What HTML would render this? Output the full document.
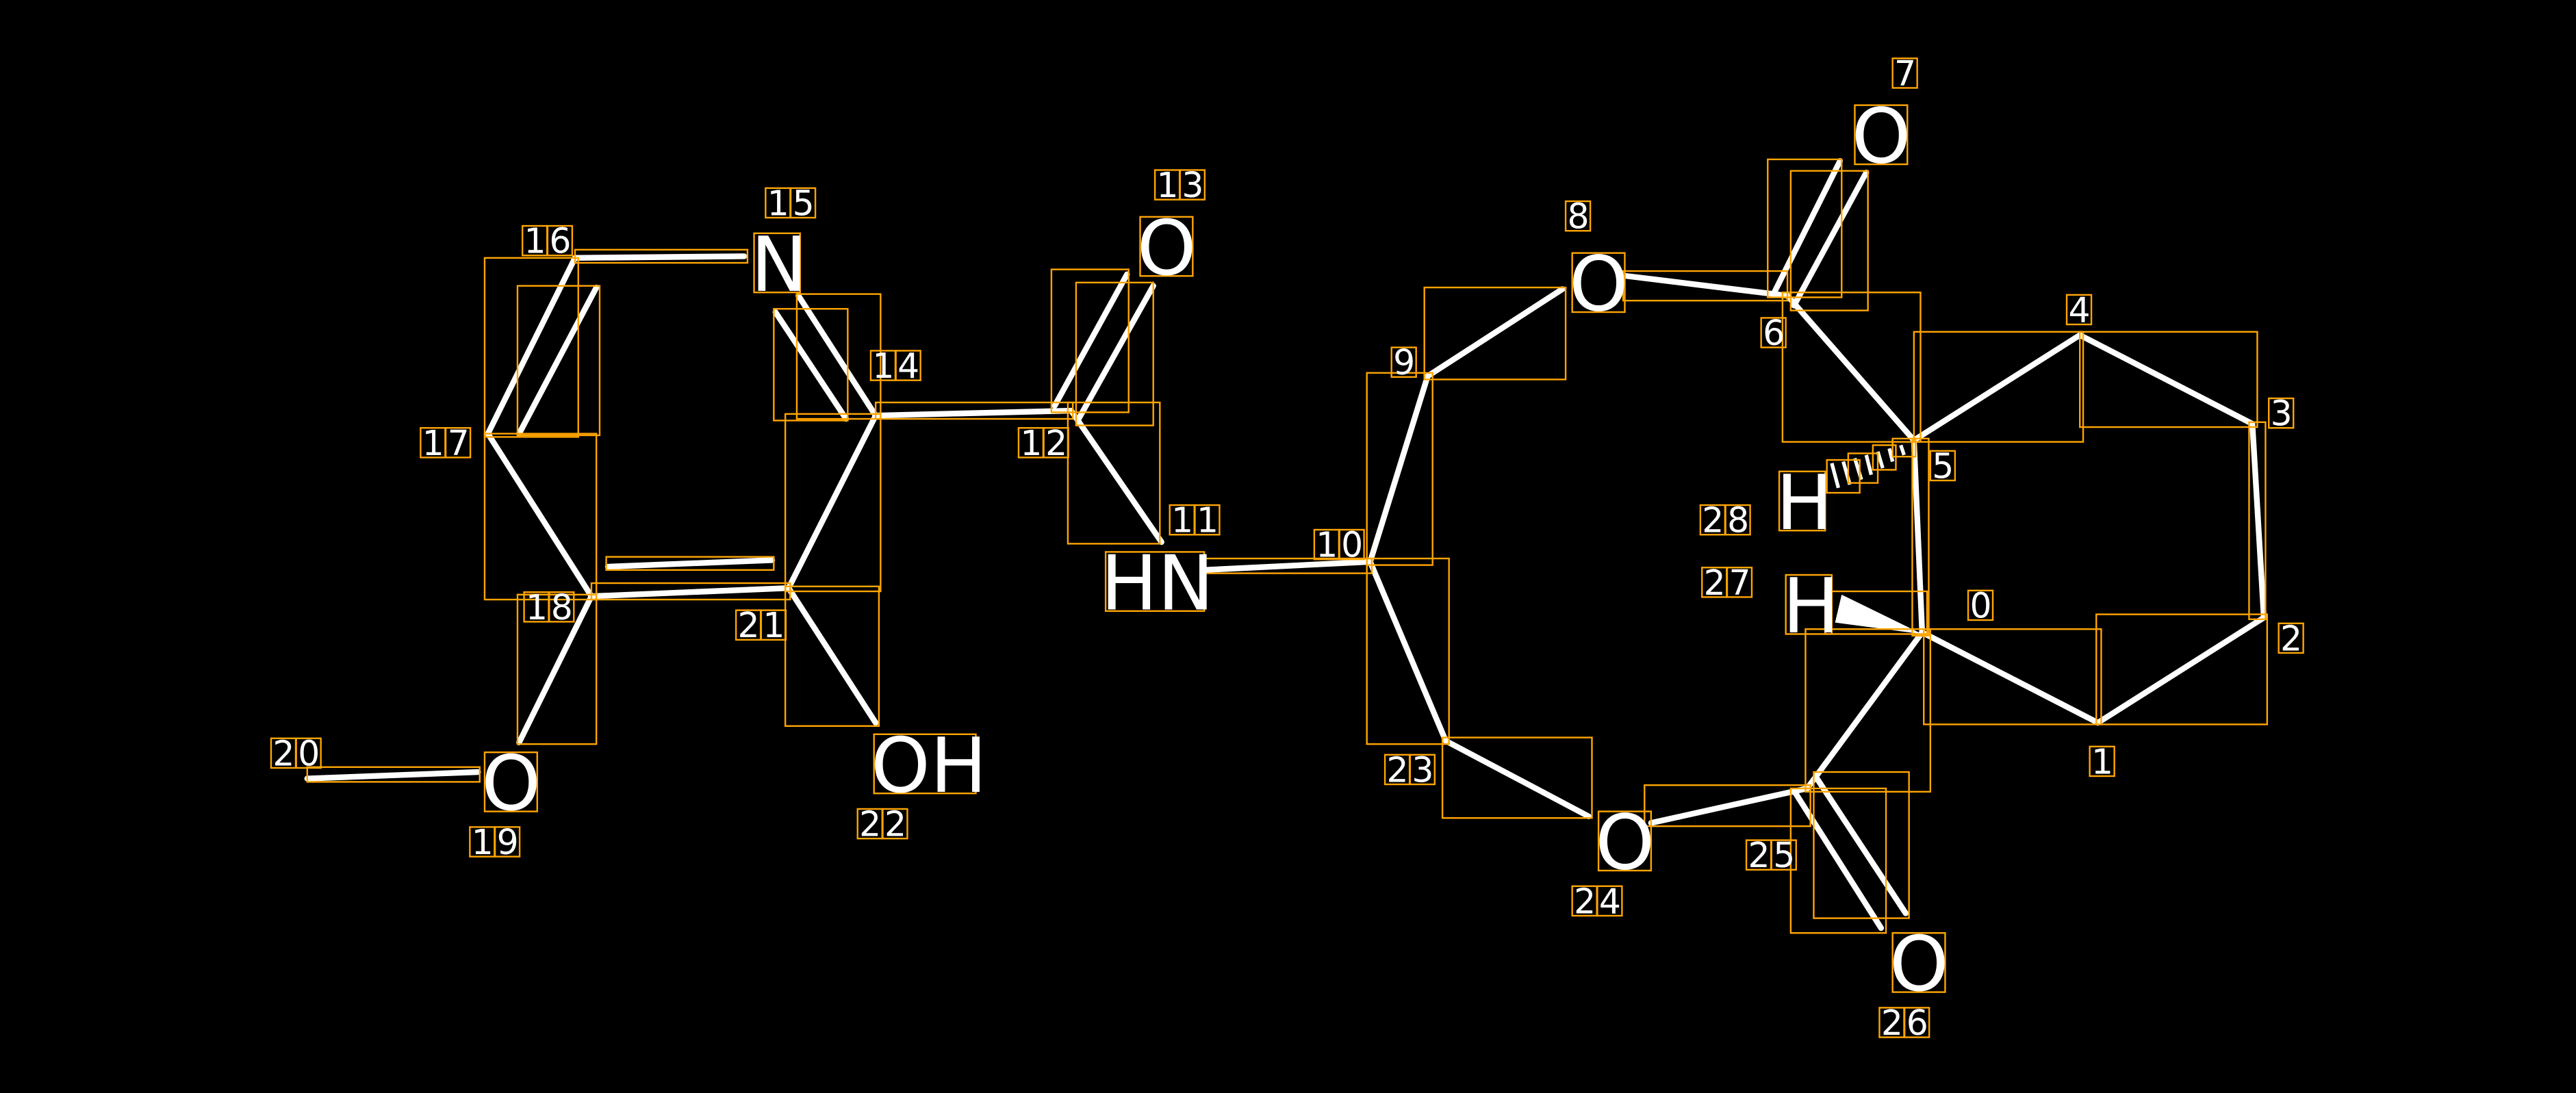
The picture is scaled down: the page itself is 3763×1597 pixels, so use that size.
<!DOCTYPE html>
<html><head><meta charset="utf-8"><style>html,body{margin:0;padding:0;background:#000}svg{display:block}</style></head>
<body>
<svg id="s" width="3763" height="1597" viewBox="0 0 1568 665.4" xmlns="http://www.w3.org/2000/svg">
<rect width="1568" height="665.4" fill="#000"/>
<g stroke="#fff" stroke-width="3.5" stroke-linecap="round" fill="none">
<line x1="1170" y1="385" x2="1277" y2="440"/>
<line x1="1277" y1="440" x2="1378" y2="376"/>
<line x1="1378" y1="376" x2="1371" y2="258"/>
<line x1="1371" y1="258" x2="1266" y2="204"/>
<line x1="1266" y1="204" x2="1165" y2="268"/>
<line x1="1165" y1="268" x2="1170" y2="385"/>
<line x1="1165" y1="268" x2="1088" y2="180"/>
<line x1="1080" y1="178" x2="1120" y2="98"/>
<line x1="1092" y1="186" x2="1136" y2="105"/>
<line x1="1088" y1="180" x2="990" y2="168"/>
<line x1="951" y1="176" x2="869" y2="229"/>
<line x1="869" y1="229" x2="834" y2="342"/>
<line x1="834" y1="342" x2="733" y2="347"/>
<line x1="834" y1="342" x2="880" y2="451"/>
<line x1="880" y1="451" x2="967" y2="497"/>
<line x1="1005" y1="501" x2="1100" y2="480"/>
<line x1="1100" y1="480" x2="1170" y2="385"/>
<line x1="1093" y1="483" x2="1145" y2="565"/>
<line x1="1106" y1="474" x2="1160" y2="556"/>
<line x1="652" y1="250" x2="707" y2="330"/>
<line x1="642" y1="247" x2="686" y2="167"/>
<line x1="656" y1="256" x2="702" y2="174"/>
<line x1="652" y1="250" x2="533" y2="253"/>
<line x1="533" y1="253" x2="486" y2="180"/>
<line x1="515" y1="255" x2="472" y2="190"/>
<line x1="453" y1="156" x2="350" y2="157"/>
<line x1="350" y1="157" x2="297" y2="264"/>
<line x1="316" y1="264" x2="363" y2="175"/>
<line x1="297" y1="264" x2="360" y2="363"/>
<line x1="360" y1="363" x2="480" y2="358"/>
<line x1="370" y1="345" x2="470" y2="341"/>
<line x1="480" y1="358" x2="533" y2="253"/>
<line x1="360" y1="363" x2="316" y2="452"/>
<line x1="291" y1="470" x2="187" y2="474"/>
<line x1="480" y1="358" x2="533" y2="440"/>
</g>
<polygon points="1170,386 1121,362 1117,379" fill="#fff"/>
<g stroke="#fff" stroke-width="2.2">
<line x1="1115" y1="282" x2="1119" y2="297"/><line x1="1122" y1="281" x2="1126" y2="295"/>
<line x1="1129" y1="279" x2="1133" y2="292"/><line x1="1136" y1="277" x2="1139" y2="289"/>
<line x1="1143" y1="275" x2="1146" y2="285"/><line x1="1150" y1="273" x2="1152" y2="281"/>
<line x1="1157" y1="271" x2="1159" y2="277"/>
</g>
<g fill="none" stroke="#ffa500" stroke-width="1">
<rect x="1171" y="383" width="108" height="58"/><rect x="1276" y="374" width="104" height="67"/>
<rect x="1369" y="257" width="10" height="120"/><rect x="1266" y="202" width="108" height="58"/>
<rect x="1165" y="202" width="103" height="67"/><rect x="1164" y="267" width="10" height="120"/>
<rect x="1085" y="178" width="84" height="91"/><rect x="1076" y="97" width="45" height="84"/>
<rect x="1090" y="104" width="47" height="85"/><rect x="988" y="165" width="100" height="18"/>
<rect x="867" y="175" width="86" height="56"/><rect x="832" y="227" width="40" height="117"/>
<rect x="732" y="340" width="103" height="9"/><rect x="832" y="340" width="50" height="113"/>
<rect x="878" y="449" width="91" height="49"/><rect x="1001" y="478" width="101" height="25"/>
<rect x="1099" y="383" width="76" height="99"/><rect x="1090" y="480" width="58" height="88"/>
<rect x="1104" y="470" width="58" height="89"/><rect x="650" y="245" width="56" height="86"/>
<rect x="640" y="164" width="47" height="87"/><rect x="655" y="172" width="47" height="87"/>
<rect x="533" y="245" width="120" height="10"/><rect x="485" y="179" width="51" height="76"/>
<rect x="471" y="188" width="45" height="68"/><rect x="350" y="152" width="105" height="8"/>
<rect x="295" y="157" width="57" height="109"/><rect x="315" y="174" width="50" height="91"/>
<rect x="295" y="264" width="68" height="101"/><rect x="360" y="355" width="121" height="10"/>
<rect x="369" y="339" width="102" height="8"/><rect x="478" y="252" width="58" height="108"/>
<rect x="315" y="362" width="48" height="91"/><rect x="187" y="467" width="105" height="9"/>
<rect x="478" y="357" width="57" height="85"/><rect x="1111" y="360" width="62" height="26"/>
<rect x="1112" y="280" width="20" height="20"/><rect x="1125" y="276" width="18" height="18"/>
<rect x="1140" y="271" width="14" height="15"/><rect x="1152" y="267" width="14" height="11"/>
<rect x="1129" y="64" width="32" height="36"/><rect x="957" y="154" width="32" height="36"/>
<rect x="694" y="132" width="32" height="36"/><rect x="459" y="142" width="28" height="36"/>
<rect x="295" y="458" width="32" height="36"/><rect x="532" y="447" width="62" height="36"/>
<rect x="673" y="336" width="60" height="36"/><rect x="973" y="494" width="32" height="36"/>
<rect x="1152" y="568" width="32" height="36"/><rect x="1083" y="287" width="28" height="36"/>
<rect x="1087" y="350" width="28" height="36"/>
</g>
<g fill="#fff" font-family="'DejaVu Sans','Liberation Sans',sans-serif" font-size="46">
<text x="1127" y="99">O</text><text x="955" y="189">O</text><text x="692" y="167">O</text>
<text x="457" y="177">N</text><text x="293" y="493">O</text><text x="530" y="482">OH</text>
<text x="670" y="371">HN</text><text x="971" y="529">O</text><text x="1150" y="603">O</text>
<text x="1081" y="322">H</text><text x="1085" y="385">H</text>
</g>
<g id="nums" fill="#fff" font-family="'DejaVu Sans','Liberation Sans',sans-serif" font-size="21">
<text x="1199" y="376">0</text><text x="1273" y="471">1</text><text x="1388" y="396">2</text>
<text x="1382" y="259">3</text><text x="1259" y="196">4</text><text x="1176" y="291">5</text>
<text x="1073" y="210">6</text><text x="1153" y="52">7</text><text x="954" y="139">8</text>
<text x="848" y="228">9</text><text x="801" y="339">10</text><text x="713" y="324">11</text>
<text x="621" y="277">12</text><text x="704" y="120">13</text><text x="531" y="230">14</text>
<text x="467" y="131">15</text><text x="319" y="154">16</text><text x="257" y="277">17</text>
<text x="320" y="377">18</text><text x="287" y="520">19</text><text x="166" y="466">20</text>
<text x="449" y="388">21</text><text x="523" y="509">22</text><text x="844" y="476">23</text>
<text x="958" y="556">24</text><text x="1064" y="528">25</text><text x="1145" y="630">26</text>
<text x="1037" y="362">27</text><text x="1036" y="324">28</text>
</g>
<g id="nb" fill="none" stroke="#ffa500" stroke-width="1"></g>
</svg>
<script>
(function(){var ns="http://www.w3.org/2000/svg",g=document.getElementById("nb");
document.querySelectorAll("#nums text").forEach(function(t){var x=+t.getAttribute("x"),y=+t.getAttribute("y"),s=t.textContent;
t.setAttribute("letter-spacing","2");
for(var i=0;i<s.length;i++){var r=document.createElementNS(ns,"rect");r.setAttribute("x",x+i*15.3-1);r.setAttribute("y",y-16.5);r.setAttribute("width",15);r.setAttribute("height",18);g.appendChild(r);}});})();
</script>
</body></html>
